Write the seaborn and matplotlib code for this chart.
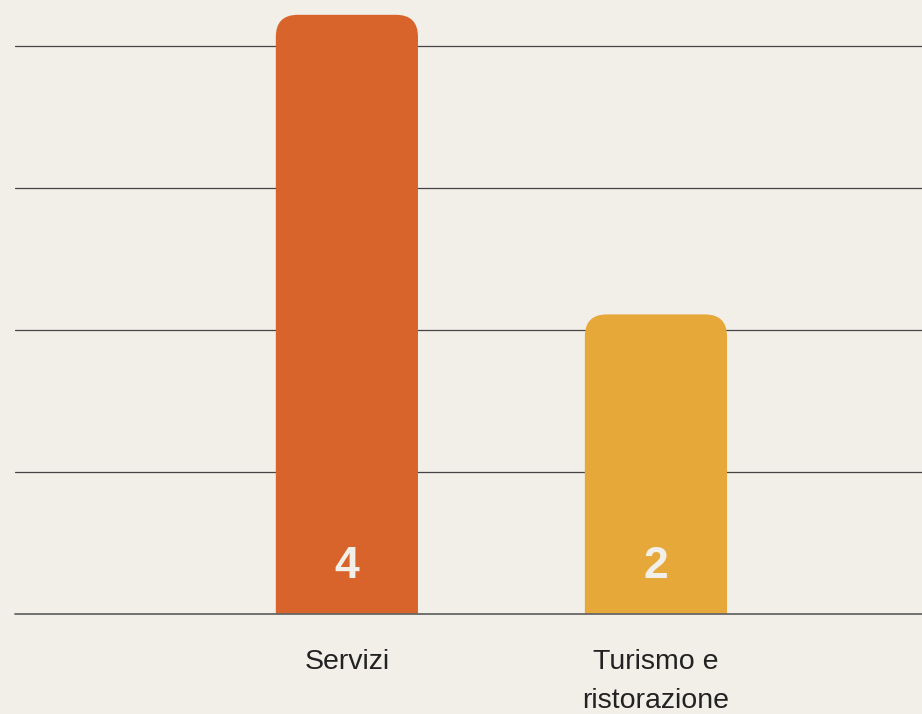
import matplotlib
matplotlib.use("Agg")
import matplotlib.pyplot as plt
import seaborn as sns
import pandas as pd
from matplotlib.patches import FancyBboxPatch

# dati
categorie = ["Servizi", "Turismo e\nristorazione"]
valori = [4, 2]
colori = ["#D9642B", "#E7A83A"]
griglia = [0.948, 1.896, 2.844, 3.792]

SFONDO = "#F2EFE9"

df = pd.DataFrame({"categoria": categorie, "valore": valori})

sns.set_theme(style="white")
plt.rcParams["font.family"] = ["Liberation Sans", "DejaVu Sans"]

fig = plt.figure(figsize=(9.22, 7.14), dpi=100, facecolor=SFONDO)
# assi: sinistra x=15px, destra bordo, basso y=614px, alto y=0
ax = fig.add_axes([15 / 922, (714 - 614) / 714, (922 - 15) / 922, 614 / 714])
ax.set_facecolor(SFONDO)

sns.barplot(data=df, x="categoria", y="valore", hue="categoria",
            palette=colori, width=0.46, legend=False, ax=ax)

ax.set_xlim(-1.074, 1.861)
ax.set_ylim(0, 614 / 149.8)

# linee della griglia
for g in griglia:
    ax.axhline(g, color="#444444", lw=0.9, zorder=0)
ax.axhline(0, color="#666666", lw=1.3, zorder=4, clip_on=False)

# barre con angoli superiori arrotondati (quelli in basso finiscono sotto lo zero e vengono tagliati)
px_x = 309.0
px_y = 149.8
r_px = 22
rx = r_px / px_x
aspect = (1 / px_y) / (1 / px_x)
extra = 1.0
for p, col in zip(list(ax.patches), colori):
    x, w, h = p.get_x(), p.get_width(), p.get_height()
    p.remove()
    ax.add_patch(FancyBboxPatch((x, -extra), w, h + extra,
                                boxstyle=f"round,pad=0,rounding_size={rx}",
                                mutation_aspect=aspect, facecolor=col,
                                edgecolor="none", zorder=2))
    ax.text(x + w / 2, 48 / px_y, f"{int(round(h))}", ha="center", va="center",
            fontsize=32, fontweight="bold", color=SFONDO, zorder=3)

ax.set_yticks([])
ax.set_xlabel("")
ax.set_ylabel("")
ax.tick_params(axis="x", length=0, pad=25.5, labelsize=20.5, labelcolor="#222222")
for lbl in ax.get_xticklabels():
    lbl.set_linespacing(1.65)
    lbl.set_verticalalignment("top")
for s in ax.spines.values():
    s.set_visible(False)

fig.savefig("out.png", dpi=100, facecolor=SFONDO)
